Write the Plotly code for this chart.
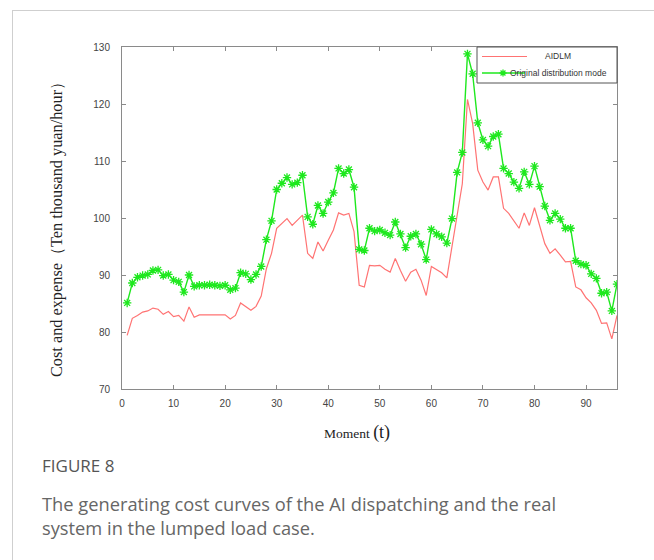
import plotly.graph_objects as go

moments = list(range(1, 97))

aidlm = [79.4, 82.4, 82.9, 83.5, 83.7, 84.2, 84.0, 83.1, 83.6, 82.7,
         82.9, 81.9, 84.4, 82.6, 83.0, 83.0, 83.0, 83.0, 83.0, 83.0,
         82.3, 82.9, 85.1, 84.4, 83.8, 84.5, 86.3, 91.1, 93.8, 98.2,
         99.1, 99.9, 98.7, 99.6, 100.5, 93.8, 92.9, 95.8, 94.2, 96.1,
         97.9, 100.9, 100.5, 100.8, 97.6, 88.2, 87.9, 91.7, 91.6, 91.7,
         91.0, 90.5, 92.9, 90.8, 88.9, 90.5, 91.0, 89.1, 86.4, 91.5,
         91.0, 90.4, 89.5, 95.0, 101.0, 106.0, 120.8, 116.6, 108.4, 106.3,
         104.9, 107.2, 107.2, 101.7, 100.8, 99.6, 98.2, 100.9, 98.7, 101.8,
         98.4, 95.5, 93.8, 94.6, 93.5, 92.3, 92.4, 87.9, 87.4, 86.0,
         85.1, 83.8, 81.5, 81.6, 78.8, 82.9]

original = [85.1, 88.6, 89.6, 89.9, 90.1, 90.8, 90.9, 89.9, 90.1, 89.1,
            88.8, 87.0, 90.0, 88.0, 88.2, 88.2, 88.3, 88.2, 88.1, 88.2,
            87.4, 87.7, 90.4, 90.2, 89.2, 90.1, 91.5, 96.2, 99.5, 105.0,
            106.1, 107.1, 105.9, 106.2, 107.5, 100.2, 98.9, 102.2, 100.8, 102.8,
            104.4, 108.7, 107.8, 108.5, 105.4, 94.5, 94.3, 98.2, 97.7, 97.9,
            97.4, 97.0, 99.3, 97.2, 94.8, 96.8, 97.2, 95.4, 92.7, 98.0,
            97.2, 96.7, 95.6, 99.9, 108.0, 111.5, 128.8, 125.3, 116.7, 113.7,
            112.6, 114.3, 114.7, 108.7, 107.8, 106.3, 105.2, 108.1, 105.9, 109.1,
            105.5, 102.1, 99.6, 100.8, 99.8, 98.2, 98.2, 92.5, 91.9, 91.7,
            90.2, 89.4, 86.8, 87.0, 83.7, 88.4]

series_names = ["AIDLM", "Original distribution mode"]
x_ticks = [0, 10, 20, 30, 40, 50, 60, 70, 80, 90]
y_ticks = [70, 80, 90, 100, 110, 120, 130]

RED = "#ff7373"
GREEN = "#1ee81e"

fig = go.Figure()
fig.add_trace(go.Scatter(
    x=moments, y=aidlm, mode="lines", name=series_names[0],
    line=dict(color=RED, width=1.2),
))
fig.add_trace(go.Scatter(
    x=moments, y=original, mode="lines+markers", name=series_names[1],
    line=dict(color=GREEN, width=1.4),
    marker=dict(symbol="asterisk-open", size=7, color=GREEN,
                line=dict(color=GREEN, width=1.3)),
))

axis_common = dict(
    showgrid=False, zeroline=False, showline=True, linecolor="#8a8a8a", linewidth=1,
    mirror="ticks", ticks="inside", ticklen=4, tickcolor="#8a8a8a",
    tickfont=dict(family="Liberation Sans, Arial", size=10, color="#444444"),
)

L, R, T, B = 122, 37, 47, 171
fig.update_layout(
    width=654, height=560,
    margin=dict(l=L, r=R, t=T, b=B),
    paper_bgcolor="white", plot_bgcolor="white",
    showlegend=False,
    xaxis=dict(range=[0, 96], tickvals=x_ticks, ticklabelstandoff=5, **axis_common),
    yaxis=dict(range=[70, 130], tickvals=y_ticks, ticklabelstandoff=9, **axis_common),
)

W = 654 - L - R
H = 560 - T - B

def px(xp):
    return (xp - L) / W

def py(yp):
    return (560 - B - yp) / H

# card border lines
fig.add_shape(type="line", xref="paper", yref="paper", x0=px(12), x1=px(654), y0=py(10.5), y1=py(10.5),
              line=dict(color="#cfcfcf", width=1))
fig.add_shape(type="line", xref="paper", yref="paper", x0=px(12.5), x1=px(12.5), y0=py(10), y1=py(560),
              line=dict(color="#cfcfcf", width=1))

# legend box (drawn like the original MATLAB legend)
fig.add_shape(type="rect", xref="paper", yref="paper", x0=px(477), x1=px(617), y0=py(83), y1=py(47),
              line=dict(color="#555555", width=1), fillcolor="white", layer="above")
fig.add_shape(type="line", xref="paper", yref="paper", x0=px(482), x1=px(527), y0=py(56.5), y1=py(56.5),
              line=dict(color=RED, width=1.2), layer="above")
fig.add_shape(type="line", xref="paper", yref="paper", x0=px(482), x1=px(525), y0=py(73), y1=py(73),
              line=dict(color=GREEN, width=1.4), layer="above")
cx, cy, r = 503, 73, 3.5
star = "M{},{} L{},{} M{},{} L{},{} M{},{} L{},{} M{},{} L{},{}".format(
    px(cx - r), py(cy), px(cx + r), py(cy),
    px(cx), py(cy - r), px(cx), py(cy + r),
    px(cx - r * 0.7), py(cy - r * 0.7), px(cx + r * 0.7), py(cy + r * 0.7),
    px(cx - r * 0.7), py(cy + r * 0.7), px(cx + r * 0.7), py(cy - r * 0.7),
)
fig.add_shape(type="path", xref="paper", yref="paper", path=star,
              line=dict(color=GREEN, width=1.3), layer="above")
fig.add_annotation(text=series_names[0], xref="paper", yref="paper", x=px(558), y=py(56),
                   showarrow=False, xanchor="center", yanchor="middle",
                   font=dict(family="Liberation Sans, Arial", size=8.5, color="#333333"))
fig.add_annotation(text=series_names[1], xref="paper", yref="paper", x=px(508), y=py(73),
                   showarrow=False, xanchor="left", yanchor="middle",
                   font=dict(family="Liberation Sans, Arial", size=8.5, color="#333333"))

fig.add_annotation(
    text="Cost and expense（Ten thousand yuan/hour）", xref="paper", yref="paper",
    x=px(56), y=py(226), textangle=-90, showarrow=False,
    font=dict(family="Liberation Serif, Times New Roman", size=16.3, color="#222222"),
    xanchor="center", yanchor="middle",
)
fig.add_annotation(
    text="Moment <span style='font-size:18px'>(t)</span>", xref="paper", yref="paper",
    x=px(357), y=py(432), showarrow=False,
    font=dict(family="Liberation Serif, Times New Roman", size=13.5, color="#222222"),
    xanchor="center", yanchor="middle",
)
fig.add_annotation(
    text="FIGURE 8", xref="paper", yref="paper",
    x=px(40), y=py(465), showarrow=False, xanchor="left", yanchor="middle",
    font=dict(family="Open Sans", size=17, color="#555555"),
)
fig.add_annotation(
    text="The generating cost curves of the AI dispatching and the real", xref="paper", yref="paper",
    x=px(40), y=py(503), showarrow=False, xanchor="left", yanchor="middle",
    font=dict(family="Open Sans", size=18.3, color="#666666"),
)
fig.add_annotation(
    text="system in the lumped load case.", xref="paper", yref="paper",
    x=px(40), y=py(527), showarrow=False, xanchor="left", yanchor="middle",
    font=dict(family="Open Sans", size=18.3, color="#666666"),
)

fig.write_html("out.html", config={"displayModeBar": False},
               post_script="document.body.style.margin='0px';")
